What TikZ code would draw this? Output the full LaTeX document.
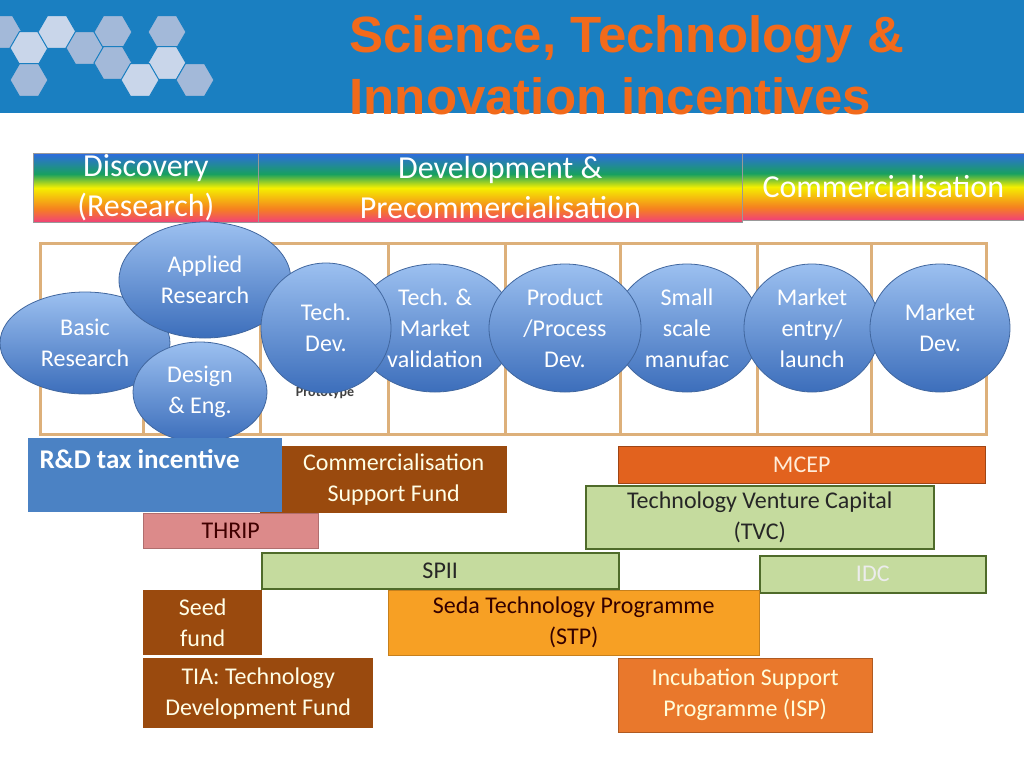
\documentclass[tikz,border=0pt]{standalone}
\usepackage{fontspec}
\setmainfont{Carlito}
\newfontfamily\titlefont{Liberation Sans}
\usetikzlibrary{shapes.geometric}
\definecolor{hdr}{HTML}{1A7FC1}
\definecolor{ttl}{HTML}{F26A1B}
\definecolor{rpink}{HTML}{F0407A}
\definecolor{rorange}{HTML}{F5821F}
\definecolor{ryellow}{HTML}{F5F000}
\definecolor{rgreen}{HTML}{18A060}
\definecolor{rblue}{HTML}{2E6BE0}
\definecolor{eltop}{HTML}{9CC0F0}
\definecolor{elbot}{HTML}{3C6EBB}
\definecolor{elbd}{HTML}{41679F}
\definecolor{grid}{HTML}{DDB07A}
\definecolor{brn}{HTML}{9A4A0E}
\definecolor{lgreen}{HTML}{C5DB9E}
\definecolor{dgreen}{HTML}{4F6B2A}
\definecolor{mcep}{HTML}{E2621E}
\definecolor{stp}{HTML}{F7A024}
\definecolor{isp}{HTML}{E9782C}
\definecolor{thrip}{HTML}{DC8A8A}
\definecolor{rdblue}{HTML}{4B82C4}
\definecolor{hexA}{HTML}{C9D6EA}
\definecolor{hexB}{HTML}{A3B9D9}
\pgfdeclareverticalshading{rainbow}{100bp}{color(0bp)=(rpink); color(25bp)=(rpink); color(35bp)=(rorange); color(50bp)=(ryellow); color(60bp)=(rgreen); color(75bp)=(rblue); color(100bp)=(rblue)}
\tikzset{
  band/.style={shading=rainbow, draw=black!40, line width=0.6pt, minimum height=69pt, inner sep=0pt, text=white, font=\fontsize{32}{40}\selectfont, align=center},
  bub/.style={ellipse, draw=elbd, line width=0.8pt, top color=eltop, bottom color=elbot, text=white, font=\fontsize{24}{31}\selectfont, align=center, inner sep=0pt},
  bar/.style={rectangle, inner sep=0pt, anchor=north west, font=\fontsize{24}{31}\selectfont, align=center},
  hexa/.style={regular polygon, regular polygon sides=6, minimum size=38pt, inner sep=0pt, draw=hdr, line width=1pt}
}
\begin{document}
\begin{tikzpicture}[x=1pt,y=-1pt]
\useasboundingbox (0,0) rectangle (1024,768);
\fill[white] (0,0) rectangle (1024,768);
% header
\fill[hdr] (0,0) rectangle (1024,113);
\foreach \px/\py/\c [count=\i] in {3/32/hexB,29/48/hexA,57/32/hexA,85/48/hexB,113/32/hexB,113/63/hexB,167/32/hexB,167/63/hexA,140/80/hexA,195/80/hexB,29/80/hexB}
  \node[hexa, fill=\c] (hx\i) at (\px,\py) {};
\fill[hdr] (-20,0) rectangle (0,113);
\node[anchor=west, text=ttl, font=\titlefont\bfseries\fontsize{51}{62}\selectfont, align=left] (title) at (346,65) {Science, Technology \&\\Innovation incentives};
% rainbow band
\node[band, minimum width=225pt, anchor=north west] (disc) at (33,153) {Discovery\\(Research)};
\node[band, minimum width=484pt, anchor=north west] (dev) at (258,153) {Development \&\\Precommercialisation};
\node[band, minimum width=282pt, minimum height=67pt, anchor=north west] (comm) at (742,153) {Commercialisation};
% grid
\draw[grid, line width=3pt] (40,243) rectangle (986,434);
\foreach \gx [count=\j] in {143,260,388,505,620,757,871}
  \draw[grid, line width=3pt] (\gx,243) coordinate (gt\j) -- (\gx,434) coordinate (gb\j);
% bubbles
\node[bub, minimum width=170pt, minimum height=102pt] (basic) at (85,343) {Basic\\Research};
\node[bub, minimum width=172pt, minimum height=116pt] (applied) at (205,280) {Applied\\Research};
\node[font=\bfseries\fontsize{14}{15}\selectfont, text=black!75] (proto) at (325,393) {Prototype};
\node[bub, minimum width=134pt, minimum height=100pt] (design) at (200,392) {Design\\\& Eng.};
\node[bub, minimum width=160pt, minimum height=128pt] (tmv) at (435,328) {Tech. \&\\Market\\validation};
\node[bub, minimum width=130pt, minimum height=130pt] (tdev) at (326,328) {Tech.\\Dev.};
\node[bub, minimum width=146pt, minimum height=128pt] (small) at (687,328) {Small\\scale\\manufac};
\node[bub, minimum width=152pt, minimum height=128pt] (prod) at (565,328) {Product\\/Process\\Dev.};
\node[bub, minimum width=136pt, minimum height=128pt] (entry) at (812,328) {Market\\entry/\\launch};
\node[bub, minimum width=140pt, minimum height=128pt] (mdev) at (940,328) {Market\\Dev.};
% bars
\node[bar, fill=brn, text=white!90!yellow, minimum width=247pt, minimum height=67pt] (csf) at (260,446) {\hspace*{20pt}Commercialisation\\\hspace*{20pt}Support Fund};
\node[bar, fill=rdblue, text=white, minimum width=254pt, minimum height=74pt] (rd) at (28,438) {};
\node[anchor=north west, text=white, font=\bfseries\fontsize{27}{30}\selectfont] (rdt) at (36,446) {R\&D tax incentive};
\node[bar, fill=thrip, draw=thrip!80!black, text=black!75!red, minimum width=175pt, minimum height=35pt] (thrip) at (143,513) {THRIP};
\node[bar, fill=mcep, draw=mcep!70!black, text=white!85!orange, minimum width=367pt, minimum height=37pt] (mcep) at (618,446) {MCEP};
\node[bar, fill=lgreen, draw=dgreen, line width=1.5pt, text=black!85, minimum width=348pt, minimum height=63pt] (tvc) at (585,485) {Technology Venture Capital\\(TVC)};
\node[bar, fill=lgreen, draw=dgreen, line width=1.5pt, text=black!85, minimum width=357pt, minimum height=36pt] (spii) at (261,552) {SPII};
\node[bar, fill=lgreen, draw=dgreen, line width=1.5pt, text=white!85!gray, minimum width=226pt, minimum height=37pt] (idc) at (759,555) {IDC};
\node[bar, fill=brn, text=white!90!yellow, minimum width=119pt, minimum height=65pt] (seed) at (143,590) {Seed\\fund};
\node[bar, fill=stp, draw=stp!80!black, text=black!80!red, minimum width=371pt, minimum height=65pt] (stpn) at (388,590) {Seda Technology Programme\\(STP)};
\node[bar, fill=brn, text=white!90!yellow, minimum width=230pt, minimum height=70pt] (tia) at (143,658) {TIA: Technology\\Development Fund};
\node[bar, fill=isp, draw=isp!75!black, text=white!85!yellow, minimum width=254pt, minimum height=74pt] (ispn) at (618,658) {Incubation Support\\Programme (ISP)};
\end{tikzpicture}
\end{document}
